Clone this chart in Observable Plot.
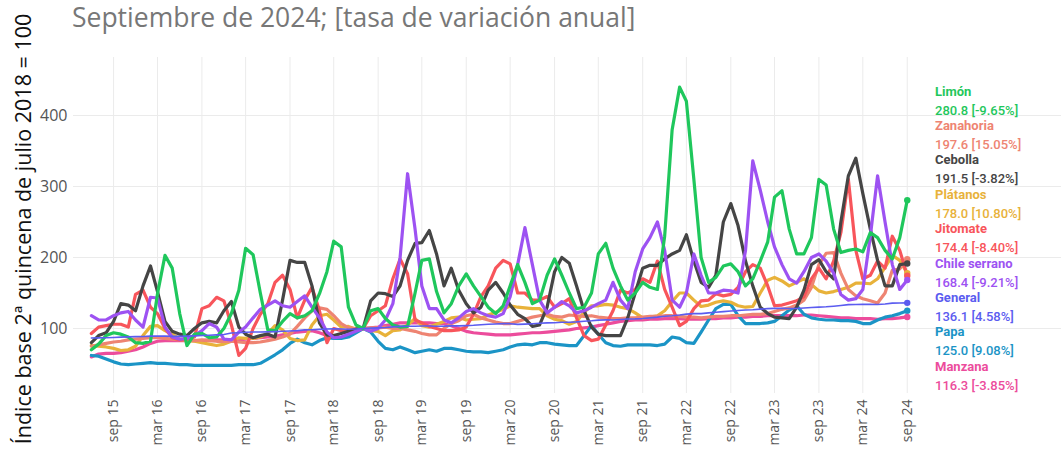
<!DOCTYPE html>
<html><head><meta charset="utf-8">
<script src="https://cdn.jsdelivr.net/npm/d3@7"></script>
<script src="https://cdn.jsdelivr.net/npm/@observablehq/plot@0.6"></script>
<style>
body{margin:0;background:#fff;font-family:"Open Sans",sans-serif;}
#wrap{position:relative;width:1061px;height:461px;overflow:hidden;background:#fff;}
#sub{position:absolute;left:72px;top:2px;font-size:26.5px;line-height:30px;color:#777;white-space:nowrap;z-index:2;}
#ylab{position:absolute;left:23px;top:229px;transform:translate(-50%,-50%) rotate(-90deg);white-space:nowrap;font-size:21.5px;line-height:26px;color:#111;z-index:2;}
#chart{position:absolute;left:0;top:45px;z-index:1;}
.lab{position:absolute;left:935px;font-family:Roboto,sans-serif;font-size:13px;font-weight:700;line-height:15px;white-space:nowrap;z-index:2;}
.lab.v{font-weight:500;}
</style></head>
<body>
<div id="wrap">
  <div id="chart"></div>
  <div id="sub">Septiembre de 2024; [tasa de variación anual]</div>
  <div id="ylab">Índice base 2ª quincena de julio 2018 = 100</div>
</div>
<script>
// monthly data, June 2015 – September 2024
const startMonth = "2015-06-01";

const limon = [70,78,90,94,92,88,80,79,82,149,
203,185,121,76,92,93,87,88,100,121,
154,213,204,150,98,97,110,121,115,118,
125,149,180,223,215,130,105,100,125,128,
114,105,102,103,150,196,198,152,122,135,
160,177,160,145,130,121,132,160,190,165,
135,140,175,198,175,150,128,130,150,205,
220,185,160,140,150,165,158,155,230,380,
440,420,310,200,165,172,188,191,180,160,
170,195,222,285,294,240,205,205,228,310,
302,240,207,210,212,208,235,228,210,198,
228,280.8];

const cebolla = [80,90,94,110,135,133,125,160,188,152,
110,96,92,90,100,108,110,108,125,138,
102,92,87,90,92,88,140,196,193,193,
160,108,91,90,93,96,99,100,139,150,
149,145,160,196,220,221,238,205,160,185,
154,135,122,130,154,165,150,133,120,114,
103,105,130,180,200,192,160,125,102,92,
90,90,90,115,150,185,189,189,198,205,
210,232,195,165,158,175,250,276,245,195,
160,130,121,116,115,114,130,154,190,197,
180,170,250,315,340,290,240,196,160,160,
190,191.5];

const jitomate = [93,102,104,106,106,102,148,154,130,121,
100,87,84,85,88,128,132,144,139,105,
62,72,100,120,135,165,175,155,115,140,
158,125,80,100,97,96,98,100,118,125,
132,170,198,177,112,108,103,100,97,97,
98,102,120,145,160,185,196,191,150,150,
140,140,145,130,135,142,115,90,83,85,
105,125,154,150,155,170,165,195,155,130,
104,110,128,139,140,149,146,148,158,180,
190,185,160,132,133,136,139,145,170,185,
170,195,235,310,210,170,175,195,185,230,
210,174.4];

const chileSerrano = [118,112,112,118,122,124,112,102,144,143,
102,88,85,86,90,97,107,102,85,84,
95,102,115,127,133,139,132,130,138,146,
130,115,95,87,88,92,96,100,96,100,
112,135,200,318,240,160,128,128,112,108,
115,124,128,122,118,116,121,145,190,242,
190,140,122,130,138,132,122,125,130,135,
140,165,140,128,180,212,228,250,210,140,
130,150,205,175,150,150,154,153,150,210,
336,295,250,215,190,170,164,180,200,205,
195,178,148,140,142,155,230,315,250,190,
155,168.4];

const platanos = [76,75,74,72,69,70,75,90,103,104,
97,92,85,83,82,80,78,76,78,82,
87,86,86,88,93,104,98,86,83,84,
105,118,120,112,102,103,99,100,97,96,
90,97,98,105,114,104,102,106,110,115,
116,112,113,114,119,123,127,132,130,129,
128,128,118,113,111,106,110,123,132,132,
134,133,130,128,122,115,116,118,125,138,
150,150,140,131,133,137,139,137,132,130,
131,150,168,172,167,160,165,170,162,153,
150,152,155,158,164,164,163,170,186,203,
196,178.0];

const zanahoria = [75,77,79,81,82,84,85,86,87,87,
86,85,84,84,83,84,83,82,82,82,
81,80,80,81,83,85,88,92,103,115,
125,129,127,118,107,101,100,100,101,101,
102,100,100,98,96,93,91,91,100,107,
111,118,120,115,112,109,107,107,110,113,
116,118,120,117,116,119,118,117,118,116,
115,114,114,115,115,116,117,117,118,118,
117,116,116,115,116,117,117,118,118,119,
120,120,121,124,127,129,133,140,158,190,
206,207,178,155,146,142,139,136,150,182,
184,197.6];

const papa = [62,61,57,53,50,49,50,51,52,51,
51,50,49,49,48,48,48,48,48,48,
49,49,49,51,57,63,70,79,85,80,
77,83,87,86,86,88,94,100,95,82,
72,70,74,70,66,68,70,68,72,72,
70,68,67,67,66,68,70,74,77,78,
77,80,80,78,77,76,76,90,104,92,
80,76,75,77,77,77,77,76,78,88,
86,80,79,95,112,128,134,134,118,107,
107,107,108,110,118,126,132,120,115,113,
112,112,111,111,110,107,107,112,116,118,
121,125.0];

const manzana = [60,64,65,65,66,68,70,74,79,82,
83,83,83,83,83,83,84,84,84,84,
84,85,86,87,88,89,91,93,95,96,
97,94,90,88,87,89,95,100,101,102,
104,106,108,108,108,108,108,107,107,104,
100,96,94,93,92,91,91,91,92,93,
94,94,95,96,97,98,100,101,102,104,
106,108,110,111,112,112,113,113,114,114,
114,113,113,113,114,114,115,115,116,116,
117,117,118,118,118,118,118,119,119,118,
117,116,115,115,114,114,114,113,114,114,
115,116.3];

const general = [86.6,86.8,87.0,87.3,87.8,88.2,88.5,
88.8,89.2,89.4,89.2,88.9,89.1,89.3,89.6,90.1,90.5,91.0,91.5,
93.6,94.1,94.7,95.1,95.0,95.2,95.6,96.1,96.5,97.0,98.0,98.3,
98.8,99.2,99.5,99.2,99.0,99.4,100.0,100.5,100.9,101.4,102.3,103.0,
103.1,103.1,103.5,103.5,103.2,103.3,103.7,103.7,104.0,104.5,105.3,105.9,
106.4,106.9,106.8,105.8,106.2,106.7,107.4,107.9,108.1,108.8,108.9,109.3,
110.2,110.9,111.8,112.2,112.0,112.6,113.3,113.5,114.0,115.0,116.0,117.3,
118.0,119.0,120.2,121.0,121.0,122.0,122.9,123.8,124.6,125.3,126.0,126.5,
127.3,128.0,128.4,128.4,128.1,128.2,128.8,129.5,130.1,130.6,131.4,132.4,
133.6,133.7,134.1,134.0,133.8,134.6,135.7,135.9,136.1];

// legend order (by last value) and annual change
const seriesNames = ["Limón","Zanahoria","Cebolla","Plátanos","Jitomate","Chile serrano","General","Papa","Manzana"];
const seriesValues = [limon, zanahoria, cebolla, platanos, jitomate, chileSerrano, general, papa, manzana];
const annualChange = ["-9.65%","15.05%","-3.82%","10.80%","-8.40%","-9.21%","4.58%","9.08%","-3.85%"];
const seriesColors = ["#1fc75c","#ee8472","#454545","#e8b23a","#f8555b","#9d52f2","#5b5cf0","#1b94c6","#ec4c9c"];

const tickDates = ["2015-09-01","2016-03-01","2016-09-01","2017-03-01","2017-09-01","2018-03-01","2018-09-01","2019-03-01","2019-09-01","2020-03-01","2020-09-01","2021-03-01","2021-09-01","2022-03-01","2022-09-01","2023-03-01","2023-09-01","2024-03-01","2024-09-01"];
const tickLabels = ["sep 15","mar 16","sep 16","mar 17","sep 17","mar 18","sep 18","mar 19","sep 19","mar 20","sep 20","mar 21","sep 21","mar 22","sep 22","mar 23","sep 23","mar 24","sep 24"];
const yTicks = [100,200,300,400];

// build table
const start = new Date(startMonth + "T00:00:00Z");
const rows = [];
seriesNames.forEach((name, k) => {
  seriesValues[k].forEach((v, i) => rows.push({name, date: d3.utcMonth.offset(start, i), value: v}));
});
const lastRows = seriesNames.map((name, k) => {
  const vals = seriesValues[k];
  return {name, date: d3.utcMonth.offset(start, vals.length - 1), value: vals[vals.length - 1]};
});
const ticks = tickDates.map(s => new Date(s + "T00:00:00Z"));
const labelMap = new Map(ticks.map((t, i) => [+t, tickLabels[i]]));

const drawOrder = ["Manzana","Papa","Plátanos","Zanahoria","Jitomate","Cebolla","Chile serrano","Limón","General"];

const marks = [
  Plot.gridX(ticks, {stroke: "#ebebeb", strokeOpacity: 1, strokeWidth: 1}),
  Plot.gridY(yTicks, {stroke: "#ebebeb", strokeOpacity: 1, strokeWidth: 1}),
  Plot.axisX(ticks, {tickFormat: d => labelMap.get(+d), tickRotate: -90, tickSize: 0, tickPadding: 6, fontSize: 14, fill: "#555", label: null}),
  Plot.axisY(yTicks, {tickSize: 0, tickPadding: 6, fontSize: 16, fill: "#555", label: null})
];
drawOrder.forEach(n => {
  marks.push(Plot.lineY(rows.filter(r => r.name === n), {
    x: "date", y: "value", stroke: "name",
    strokeWidth: n === "General" ? 1.6 : 3.2, strokeLinejoin: "round", strokeLinecap: "round"
  }));
});
marks.push(Plot.dot(lastRows, {x: "date", y: "value", fill: "name", r: 3.2}));

const chart = Plot.plot({
  width: 1061, height: 416,
  marginLeft: 73, marginRight: 0, marginTop: 12, marginBottom: 68,
  style: {fontFamily: "'Open Sans', sans-serif", background: "transparent"},
  x: {type: "utc", domain: [new Date("2015-03-19T00:00:00Z"), new Date("2026-06-02T00:00:00Z")], axis: null},
  y: {domain: [8.45, 481.7], axis: null},
  color: {domain: seriesNames, range: seriesColors},
  marks
});
document.getElementById("chart").appendChild(chart);

// right-hand labels
const wrap = document.getElementById("wrap");
seriesNames.forEach((name, k) => {
  const vals = seriesValues[k];
  const top = 83.5 + k * 34.4;
  const n = document.createElement("div");
  n.className = "lab";
  n.style.top = top + "px";
  n.style.color = seriesColors[k];
  n.textContent = name;
  wrap.appendChild(n);
  const v = document.createElement("div");
  v.className = "lab v";
  v.style.top = (top + 19) + "px";
  v.style.color = seriesColors[k];
  v.textContent = `${vals[vals.length-1].toFixed(1)} [${annualChange[k]}]`;
  wrap.appendChild(v);
});
</script>
</body></html>
